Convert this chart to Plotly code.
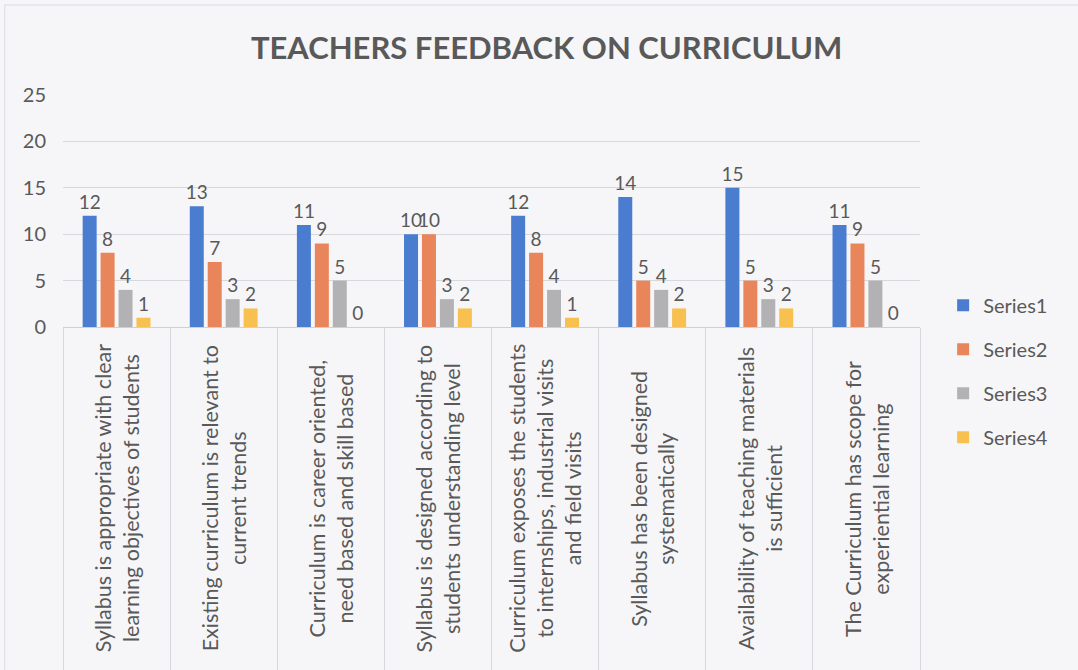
import plotly.graph_objects as go

# categories (full statements) and how they wrap in the chart
categories = [
    "Syllabus is appropriate with clear learning objectives of students",
    "Existing curriculum is relevant to current trends",
    "Curriculum is career oriented, need based and skill based",
    "Syllabus is designed according to students understanding level",
    "Curriculum exposes the students to internships, industrial visits and field visits",
    "Syllabus has been designed systematically",
    "Availability of teaching materials is sufficient",
    "The Curriculum has scope for experiential learning",
]
cat_labels = [
    "Syllabus is appropriate with clear<br>learning objectives of students",
    "Existing curriculum is relevant to<br>current trends",
    "Curriculum is career oriented,<br>need based and skill based",
    "Syllabus is designed according to<br>students understanding level",
    "Curriculum exposes the students<br>to internships, industrial visits<br>and field visits",
    "Syllabus has been designed<br>systematically",
    "Availability of teaching materials<br>is sufficient",
    "The Curriculum has scope for<br>experiential learning",
]

series1 = [12, 13, 11, 10, 12, 14, 15, 11]
series2 = [8, 7, 9, 10, 8, 5, 5, 9]
series3 = [4, 3, 5, 3, 4, 4, 3, 5]
series4 = [1, 2, 0, 2, 1, 2, 2, 0]

series_names = ["Series1", "Series2", "Series3", "Series4"]
colors = ["#4a7cd0", "#e9855a", "#b2b2b4", "#f8c04e"]

FONT = "Lato, 'Open Sans', sans-serif"
GREY = "#595959"

fig = go.Figure()
for i, (name, vals) in enumerate(zip(series_names, [series1, series2, series3, series4])):
    fig.add_trace(go.Bar(
        x=categories, y=vals, name=name,
        marker=dict(color=colors[i], line=dict(width=0)),
        text=vals, textposition="outside", constraintext="none",
        textfont=dict(family=FONT, size=19, color=GREY),
        cliponaxis=False,
        legendgroup=name,
    ))

# category labels drawn as rotated text inside the "table" cells
for cat, lab in zip(categories, cat_labels):
    fig.add_annotation(
        x=cat, y=-0.74, xref="x", yref="paper",
        text=lab, textangle=-90, showarrow=False,
        xanchor="center", yanchor="middle", align="center",
        font=dict(family=FONT, size=21.5, color=GREY),
    )

# faint border round the chart
fig.add_shape(type="rect", xref="paper", yref="paper",
              x0=-0.068, x1=1.2, y0=-1.6, y1=1.388,
              line=dict(color="#dcdce0", width=1), layer="below")

fig.update_layout(
    width=1078, height=670,
    margin=dict(l=63, r=158, t=95, b=343),
    paper_bgcolor="#f6f6f8", plot_bgcolor="#f6f6f8",
    title=dict(text="<b>TEACHERS FEEDBACK ON CURRICULUM</b>",
               x=0.507, xanchor="center", y=0.928, yanchor="middle",
               font=dict(family=FONT, size=31, color=GREY)),
    barmode="group", bargap=0.33, bargroupgap=0.22,
    showlegend=True,
    legend=dict(x=1.027, xanchor="left", y=0.178, yanchor="top",
                font=dict(family=FONT, size=20, color=GREY),
                itemwidth=30, tracegroupgap=15, bgcolor="rgba(0,0,0,0)"),
    font=dict(family=FONT, color=GREY),
)
fig.update_yaxes(range=[0, 25], dtick=5, showgrid=True, gridcolor="#d8d8dc",
                 gridwidth=1, zeroline=False, showline=False, automargin=False,
                 tickfont=dict(family=FONT, size=20, color=GREY),
                 ticklabelstandoff=16)
fig.update_xaxes(showticklabels=False, ticks="outside", tickson="boundaries",
                 ticklen=350, tickcolor="#d8d8dc", tickwidth=1, automargin=False,
                 showline=True, linecolor="#d0d0d4", linewidth=1,
                 showgrid=False)

# drop the browser's default 8px page margin so the chart sits at 0,0
fig.write_html("out.html", config={"displayModeBar": False},
               post_script="document.body.style.margin='0';")
